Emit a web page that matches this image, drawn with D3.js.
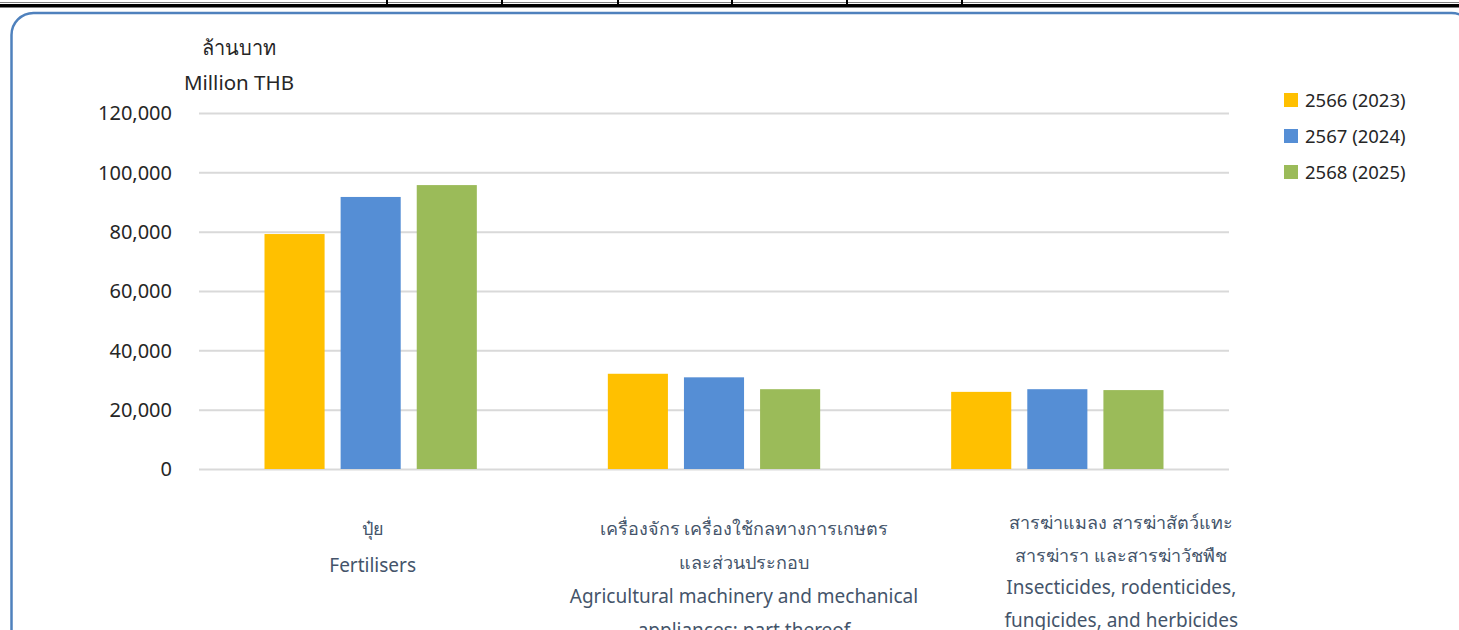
<!DOCTYPE html>
<html>
<head>
<meta charset="utf-8">
<script src="https://cdn.jsdelivr.net/npm/d3@7"></script>
<style>
  html, body { margin: 0; padding: 0; background: #fff; }
  svg { display: block; font-family: "Noto Sans", "Open Sans", sans-serif; }
</style>
</head>
<body>
<svg id="chart" width="1459" height="630"></svg>
<script>
// Agricultural input imports, million THB
const categories = ["fert", "mach", "pest"];
const categoryLabels = [
  ["ปุ๋ย", "Fertilisers"],
  ["เครื่องจักร เครื่องใช้กลทางการเกษตร", "และส่วนประกอบ", "Agricultural machinery and mechanical", "appliances; part thereof"],
  ["สารฆ่าแมลง สารฆ่าสัตว์แทะ", "สารฆ่ารา และสารฆ่าวัชพืช", "Insecticides, rodenticides,", "fungicides, and herbicides"]
];
const seriesNames = ["2566 (2023)", "2567 (2024)", "2568 (2025)"];
const values2566 = [79200, 32100, 26000];
const values2567 = [91700, 30900, 26900];
const values2568 = [95700, 26900, 26600];
const yTicks = [0, 20000, 40000, 60000, 80000, 100000, 120000];

const seriesValues = [values2566, values2567, values2568];
const colors = ["#FFC000", "#558ED5", "#9BBB59"];

const svg = d3.select("#chart");

// header rule with column ticks
const headerTicks = [387, 502, 618, 732, 847, 962];
svg.append("line").attr("x1", 0).attr("x2", 1459).attr("y1", 2.5).attr("y2", 2.5)
  .attr("stroke", "#7f7f7f").attr("stroke-width", 1);
svg.selectAll("line.htick").data(headerTicks).join("line")
  .attr("class", "htick")
  .attr("x1", d => d).attr("x2", d => d).attr("y1", 0).attr("y2", 5)
  .attr("stroke", "#000").attr("stroke-width", 2);
svg.append("rect").attr("x", 0).attr("y", 4).attr("width", 1459).attr("height", 3.5).attr("fill", "#000");

// rounded frame
svg.append("rect")
  .attr("x", 11.5).attr("y", 13).attr("width", 1462).attr("height", 640)
  .attr("rx", 22).attr("ry", 22)
  .attr("fill", "none").attr("stroke", "#4F81BD").attr("stroke-width", 2.5);

const plot = { left: 199, right: 1229, top: 113, bottom: 469 };

const y = d3.scaleLinear().domain([0, 120000]).range([plot.bottom, plot.top]);
const x0 = d3.scaleBand().domain(categories).range([plot.left, plot.right]).paddingInner(0).paddingOuter(0);
const x1 = d3.scaleBand().domain(d3.range(seriesNames.length))
  .range([65.5, x0.bandwidth() - 65.5]).paddingInner(16 / 76).paddingOuter(0);

// gridlines and value axis
const yAxis = d3.axisLeft(y).tickValues(yTicks).tickSize(-(plot.right - plot.left))
  .tickPadding(27).tickFormat(d3.format(","));
const gAxis = svg.append("g").attr("transform", `translate(${plot.left},0)`).call(yAxis);
gAxis.select(".domain").remove();
gAxis.selectAll(".tick line").attr("stroke", "#D9D9D9").attr("stroke-width", 2);
gAxis.selectAll(".tick text").attr("fill", "#262626").attr("font-size", 20)
  .attr("font-family", "'Noto Sans', sans-serif").attr("dy", "0.34em");

// axis unit
svg.append("text").attr("x", 239).attr("y", 55).attr("text-anchor", "middle")
  .attr("font-size", 20).attr("fill", "#262626").text("ล้านบาท");
svg.append("text").attr("x", 239).attr("y", 90).attr("text-anchor", "middle")
  .attr("font-size", 20.5).attr("fill", "#262626").text("Million THB");

// bars
const groups = svg.append("g").selectAll("g").data(categories).join("g")
  .attr("transform", d => `translate(${x0(d)},0)`);
groups.selectAll("rect")
  .data((d, i) => seriesValues.map((vals, s) => ({ s, v: vals[i] })))
  .join("rect")
  .attr("x", d => x1(d.s))
  .attr("width", x1.bandwidth())
  .attr("y", d => y(d.v))
  .attr("height", d => y(0) - y(d.v))
  .attr("fill", d => colors[d.s]);

// category labels (Thai lines set slightly smaller than the English ones)
const isThai = s => /[\u0E00-\u0E7F]/.test(s);
const labelShift = [2, 30, 64];
const labelTop = [535, 535, 529];
const lineGap = [37, 34, 32.5];
categories.forEach((c, i) => {
  const cx = x0(c) + x0.bandwidth() / 2 + labelShift[i];
  svg.append("g").selectAll("text").data(categoryLabels[i]).join("text")
    .attr("x", cx)
    .attr("y", (d, k) => labelTop[i] + k * lineGap[i])
    .attr("text-anchor", "middle")
    .attr("font-size", d => isThai(d) ? 18 : 19)
    .attr("fill", "#44546A")
    .text(d => d);
});

// legend
const legend = svg.append("g").attr("transform", "translate(1284,93)");
const items = legend.selectAll("g").data(seriesNames).join("g")
  .attr("transform", (d, i) => `translate(0,${i * 36})`);
items.append("rect").attr("width", 14).attr("height", 14).attr("fill", (d, i) => colors[i]);
items.append("text").attr("x", 21).attr("y", 7).attr("dy", "0.36em")
  .attr("font-size", 18.5).attr("fill", "#262626").text(d => d);
</script>
</body>
</html>
